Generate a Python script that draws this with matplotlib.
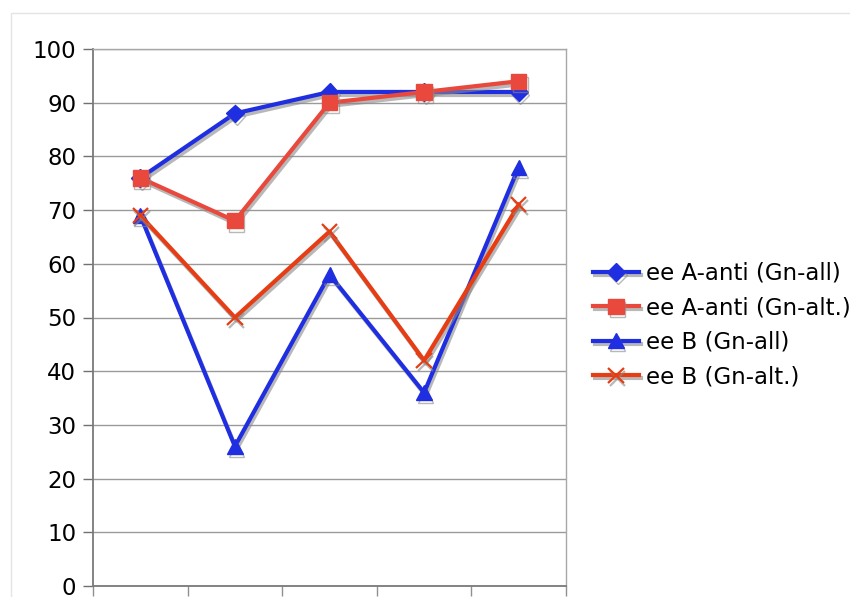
import matplotlib
matplotlib.use("Agg")
import matplotlib.pyplot as plt
import matplotlib.patheffects as pe
from matplotlib.patches import Rectangle

categories = [1, 2, 3, 4, 5]
ee_a_anti_gn_all = [76, 88, 92, 92, 92]
ee_a_anti_gn_alt = [76, 68, 90, 92, 94]
ee_b_gn_all = [69, 26, 58, 36, 78]
ee_b_gn_alt = [69, 50, 66, 42, 71]
y_ticks = [0, 10, 20, 30, 40, 50, 60, 70, 80, 90, 100]

BLUE = "#1f2ee0"
RED = "#e8493c"
ORANGE_RED = "#e63d14"

fig = plt.figure(figsize=(8.5, 5.97), dpi=100)
fig.patches.append(Rectangle((11 / 850, -0.1), 1.2, 1.0 - 13 / 597 + 0.1,
                             transform=fig.transFigure, fill=False,
                             edgecolor="#e4e4e4", linewidth=1.0))

ax = fig.add_axes([93 / 850, 1 - 586 / 597, (566 - 93) / 850, (586 - 49) / 597])

shadow = [pe.SimpleLineShadow(offset=(1.2, -2.2), shadow_color="#8a8a8a", alpha=0.6),
          pe.Normal()]
x = list(range(len(categories)))

ax.plot(x, ee_a_anti_gn_all, color=BLUE, lw=3, marker="D", ms=9,
        label="ee A-anti (Gn-all)", path_effects=shadow, zorder=3)
ax.plot(x, ee_a_anti_gn_alt, color=RED, lw=3, marker="s", ms=11,
        label="ee A-anti (Gn-alt.)", path_effects=shadow, zorder=4)
ax.plot(x, ee_b_gn_all, color=BLUE, lw=3, marker="^", ms=11,
        label="ee B (Gn-all)", path_effects=shadow, zorder=3)
ax.plot(x, ee_b_gn_alt, color=ORANGE_RED, lw=3, marker="x", ms=11, mew=1.6,
        label="ee B (Gn-alt.)", path_effects=shadow, zorder=4)

ax.set_xlim(-0.5, len(categories) - 0.5)
ax.set_ylim(0, 100)
ax.set_yticks(y_ticks)
ax.set_xticks([i - 0.5 for i in range(len(categories) + 1)])
ax.set_xticklabels([])
ax.tick_params(axis="y", direction="out", length=7, width=1, color="#707070",
               labelsize=16.5, pad=5)
ax.tick_params(axis="x", direction="out", length=7, width=1, color="#909090")
ax.yaxis.grid(True, color="#9a9a9a", linewidth=1)
ax.set_axisbelow(True)
for side, sp in ax.spines.items():
    sp.set_color("#7a7a7a" if side in ("left", "bottom") else "#a8a8a8")
    sp.set_linewidth(1.3 if side in ("left", "bottom") else 1.0)

fig.legend(loc="center left", bbox_to_anchor=(584 / 850, 1 - 325 / 597),
           frameon=False, fontsize=16.5, handlelength=2.0, handletextpad=0.3,
           labelspacing=0.5, borderaxespad=0)

fig.savefig("out.png", dpi=100)
